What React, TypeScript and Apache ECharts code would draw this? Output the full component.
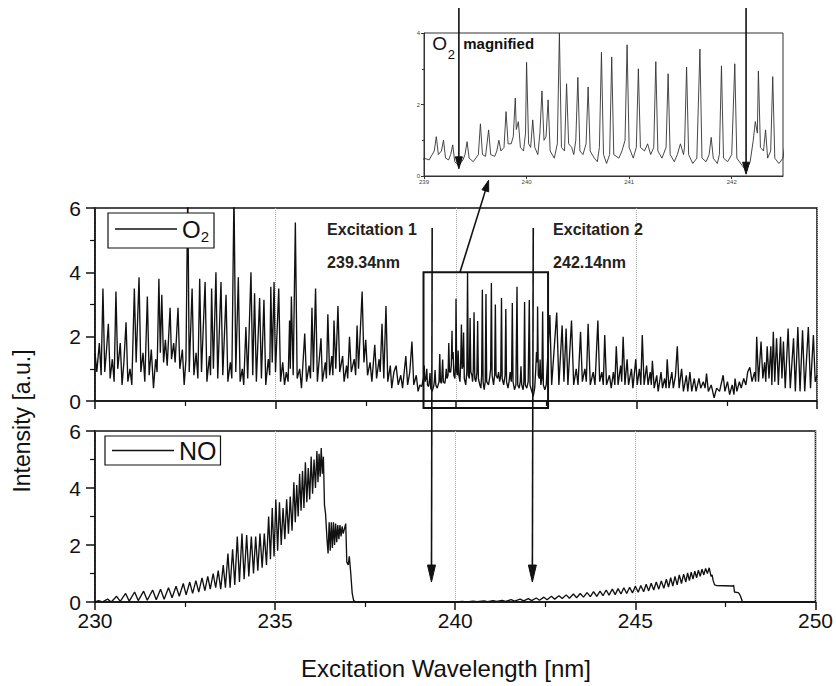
import React, { useEffect, useRef } from "react";
import * as echarts from "echarts";

// ---- data ----
const wavelengthRange = [230, 250];
const intensityRange = [0, 6];
const insetRange = [239, 242.5];
const insetIntensityRange = [0, 4];
const excitationWavelengths = [239.34, 242.14];
const excitationTitles = ["Excitation 1", "Excitation 2"];
const excitationValues = ["239.34nm", "242.14nm"];
// zoom window drawn in the O2 panel: [xMin, xMax, yMin, yMax]
const zoomWindow = [239.1, 242.55, -0.22, 4.0];

const o2Spectrum: [number, number][] = [
  [230.0, 1.5], [230.05, 0.9], [230.12, 1.8], [230.17, 0.8], [230.22, 3.5], [230.27, 0.9], [230.32, 1.6], [230.37, 2.4],
  [230.42, 0.7], [230.48, 1.3], [230.53, 0.6], [230.58, 3.4], [230.63, 1.0], [230.7, 1.8], [230.75, 0.5], [230.8, 1.2],
  [230.86, 2.45], [230.91, 0.6], [230.97, 1.0], [231.02, 0.5], [231.09, 3.5], [231.14, 1.2], [231.22, 3.85], [231.27, 0.9],
  [231.33, 1.5], [231.38, 0.6], [231.45, 3.25], [231.5, 0.8], [231.56, 1.6], [231.62, 0.4], [231.68, 1.3], [231.72, 0.9],
  [231.77, 3.8], [231.81, 1.5], [231.85, 3.3], [231.9, 1.2], [231.95, 1.9], [232.0, 1.1], [232.08, 2.9], [232.12, 1.3],
  [232.18, 1.8], [232.22, 1.2], [232.3, 2.9], [232.35, 1.0], [232.42, 1.6], [232.47, 0.5], [232.52, 1.3], [232.57, 6.6],
  [232.61, 0.9], [232.69, 3.5], [232.74, 0.8], [232.8, 1.5], [232.85, 0.7], [232.9, 3.8], [232.95, 0.9], [233.05, 3.7],
  [233.1, 0.6], [233.17, 1.4], [233.2, 0.8], [233.23, 3.5], [233.28, 1.0], [233.35, 4.0], [233.4, 0.7], [233.49, 3.7],
  [233.54, 0.8], [233.63, 3.3], [233.68, 0.6], [233.75, 1.2], [233.79, 0.7], [233.85, 6.5], [233.9, 0.9], [233.97, 3.85],
  [234.02, 0.6], [234.08, 1.0], [234.12, 0.5], [234.18, 2.3], [234.23, 0.7], [234.32, 4.0], [234.37, 0.8], [234.42, 3.35],
  [234.47, 0.6], [234.56, 3.2], [234.61, 0.7], [234.68, 3.15], [234.73, 0.5], [234.8, 1.3], [234.84, 0.8], [234.87, 3.55],
  [234.91, 1.2], [234.96, 3.7], [235.0, 0.9], [235.09, 3.5], [235.14, 0.6], [235.2, 1.2], [235.25, 0.5], [235.3, 0.9],
  [235.35, 0.6], [235.39, 2.5], [235.41, 1.0], [235.44, 3.25], [235.49, 0.8], [235.55, 5.55], [235.6, 0.7], [235.67, 1.0],
  [235.72, 0.4], [235.81, 2.1], [235.86, 0.6], [235.93, 1.1], [235.97, 0.7], [236.01, 2.9], [236.05, 0.9], [236.11, 3.5],
  [236.16, 0.6], [236.26, 1.95], [236.3, 0.6], [236.38, 1.2], [236.41, 0.7], [236.45, 2.7], [236.5, 0.8], [236.56, 1.4],
  [236.59, 0.8], [236.62, 2.5], [236.67, 1.0], [236.73, 2.95], [236.78, 0.9], [236.86, 1.4], [236.9, 0.6], [236.97, 1.1],
  [237.0, 0.7], [237.05, 2.0], [237.1, 0.9], [237.18, 1.3], [237.22, 0.8], [237.26, 2.35], [237.3, 1.0], [237.4, 3.4],
  [237.45, 1.2], [237.5, 1.9], [237.55, 0.8], [237.62, 1.2], [237.67, 0.6], [237.75, 1.75], [237.8, 0.7], [237.87, 1.3],
  [237.9, 0.9], [237.95, 2.4], [238.0, 0.7], [238.06, 2.95], [238.11, 0.6], [238.18, 1.1], [238.22, 0.4], [238.28, 0.9],
  [238.34, 1.1], [238.4, 0.5], [238.47, 0.8], [238.52, 0.4], [238.61, 1.4], [238.66, 0.5], [238.72, 0.9], [238.78, 1.85],
  [238.83, 0.5], [238.9, 0.8], [238.95, 0.3], [239.0, 0.5], [239.05, 0.45], [239.1, 0.7], [239.12, 1.1], [239.14, 0.6],
  [239.17, 0.7], [239.19, 1.0], [239.21, 0.5], [239.24, 0.45], [239.26, 0.6], [239.28, 0.87], [239.3, 0.4], [239.34, 0.3],
  [239.38, 0.45], [239.4, 0.6], [239.42, 0.96], [239.44, 0.5], [239.48, 0.4], [239.53, 0.6], [239.55, 1.46], [239.57, 0.6],
  [239.6, 0.55], [239.63, 1.29], [239.65, 0.6], [239.69, 0.55], [239.71, 0.7], [239.73, 1.0], [239.75, 0.7], [239.78, 0.8],
  [239.8, 1.8], [239.82, 0.9], [239.85, 0.9], [239.87, 1.1], [239.89, 2.18], [239.9, 1.3], [239.92, 1.52], [239.94, 0.8],
  [239.97, 0.7], [239.99, 1.2], [240.0, 3.18], [240.02, 0.9], [240.04, 0.8], [240.06, 1.57], [240.08, 0.8], [240.11, 0.6],
  [240.13, 1.2], [240.15, 2.38], [240.17, 1.0], [240.19, 1.1], [240.21, 2.13], [240.23, 0.7], [240.27, 0.5], [240.3, 0.9],
  [240.32, 4.0], [240.34, 0.8], [240.37, 0.7], [240.39, 2.58], [240.41, 0.9], [240.44, 0.8], [240.46, 0.6], [240.48, 1.0],
  [240.5, 2.76], [240.52, 0.7], [240.55, 0.6], [240.58, 0.9], [240.6, 2.49], [240.62, 0.7], [240.66, 0.5], [240.69, 0.4],
  [240.71, 0.8], [240.73, 3.46], [240.75, 0.6], [240.78, 0.35], [240.81, 0.6], [240.83, 3.33], [240.85, 0.6], [240.9, 0.5],
  [240.93, 0.7], [240.96, 1.0], [240.98, 3.67], [241.0, 0.8], [241.04, 0.5], [241.07, 0.8], [241.09, 3.0], [241.11, 0.8],
  [241.15, 0.7], [241.18, 0.9], [241.21, 0.6], [241.24, 0.8], [241.26, 3.2], [241.28, 0.7], [241.32, 0.5], [241.36, 0.8],
  [241.38, 2.86], [241.4, 0.6], [241.44, 0.4], [241.47, 0.6], [241.5, 0.9], [241.53, 0.6], [241.54, 0.8], [241.56, 3.05],
  [241.58, 0.6], [241.62, 0.35], [241.66, 0.5], [241.69, 3.55], [241.71, 0.5], [241.75, 0.4], [241.78, 0.6], [241.8, 1.08],
  [241.82, 0.5], [241.86, 0.35], [241.88, 0.6], [241.9, 3.08], [241.92, 0.5], [241.96, 0.4], [242.0, 0.6], [242.03, 3.14],
  [242.05, 0.5], [242.1, 0.3], [242.14, 0.15], [242.18, 0.4], [242.21, 1.0], [242.23, 1.52], [242.25, 1.2], [242.26, 2.94],
  [242.28, 0.8], [242.31, 0.7], [242.33, 1.29], [242.35, 0.5], [242.38, 0.7], [242.4, 2.78], [242.42, 0.5], [242.46, 0.35],
  [242.5, 0.5], [242.6, 2.67], [242.65, 0.5],
  [242.79, 2.75], [242.85, 0.5], [242.94, 2.35], [242.99, 0.6], [243.05, 2.25], [243.1, 0.5], [243.2, 2.5], [243.26, 0.5],
  [243.33, 1.0], [243.38, 0.5], [243.45, 2.15], [243.5, 0.6], [243.57, 1.0], [243.61, 0.6], [243.66, 2.4], [243.72, 0.5],
  [243.8, 0.9], [243.85, 0.5], [243.93, 2.5], [243.98, 0.6], [244.04, 0.9], [244.08, 0.5], [244.12, 2.05], [244.17, 0.5],
  [244.25, 0.8], [244.3, 0.4], [244.36, 0.9], [244.4, 0.5], [244.44, 1.7], [244.49, 0.5], [244.56, 1.1], [244.59, 0.6],
  [244.63, 2.0], [244.68, 0.5], [244.74, 1.3], [244.78, 0.5], [244.86, 1.0], [244.9, 0.4], [244.98, 1.3], [245.02, 0.5],
  [245.08, 1.0], [245.12, 0.5], [245.16, 2.05], [245.21, 0.5], [245.28, 1.1], [245.32, 0.5], [245.38, 0.9], [245.41, 0.5],
  [245.44, 1.25], [245.49, 0.4], [245.56, 0.8], [245.6, 0.3], [245.68, 0.9], [245.72, 0.4], [245.78, 0.7], [245.82, 0.4],
  [245.85, 1.3], [245.9, 0.4], [245.98, 0.9], [246.02, 0.4], [246.08, 0.8], [246.13, 1.7], [246.18, 0.4], [246.25, 1.0],
  [246.3, 0.3], [246.38, 0.8], [246.42, 0.3], [246.48, 0.9], [246.53, 0.3], [246.6, 0.7], [246.65, 0.3], [246.73, 0.7],
  [246.78, 0.4], [246.85, 0.6], [246.9, 0.4], [246.94, 0.85], [246.99, 0.3], [247.07, 0.5], [247.15, 0.1], [247.22, 0.4],
  [247.3, 0.3], [247.4, 0.8], [247.45, 0.3], [247.52, 0.6], [247.58, 0.2], [247.65, 0.5], [247.7, 0.2], [247.73, 0.7],
  [247.78, 0.3], [247.85, 0.6], [247.9, 0.4], [247.97, 0.7], [248.03, 0.5], [248.08, 0.9], [248.14, 1.05], [248.2, 0.6],
  [248.27, 0.9], [248.3, 0.6], [248.33, 2.0], [248.38, 0.6], [248.45, 1.85], [248.5, 0.7], [248.55, 1.2], [248.58, 0.6],
  [248.62, 1.7], [248.67, 0.7], [248.72, 1.7], [248.75, 0.5], [248.79, 2.15], [248.83, 0.6], [248.88, 1.95], [248.93, 0.5],
  [248.99, 2.0], [249.03, 0.7], [249.07, 1.85], [249.12, 0.4], [249.2, 2.25], [249.26, 0.4], [249.35, 1.95], [249.4, 0.3],
  [249.47, 2.3], [249.53, 0.3], [249.6, 2.2], [249.66, 0.3], [249.76, 2.3], [249.82, 0.4], [249.9, 2.05], [249.95, 0.6],
  [250.0, 0.8],
];

const noSpectrum: [number, number][] = [
  [230.0, 0], [230.1, 0.05], [230.2, 0], [230.35, 0.1], [230.45, 0], [230.6, 0.2], [230.7, 0.02], [230.85, 0.3],
  [230.95, 0.03], [231.1, 0.35], [231.2, 0.05], [231.35, 0.38], [231.45, 0.06], [231.6, 0.42], [231.7, 0.08], [231.82, 0.45],
  [231.92, 0.1], [232.04, 0.5], [232.14, 0.15], [232.25, 0.55], [232.34, 0.2], [232.45, 0.65], [232.53, 0.25], [232.63, 0.7],
  [232.71, 0.3], [232.8, 0.75], [232.88, 0.35], [232.97, 0.85], [233.05, 0.4], [233.13, 0.9], [233.2, 0.45], [233.28, 1.0],
  [233.35, 0.5], [233.42, 1.1], [233.49, 0.45], [233.56, 1.3], [233.62, 0.5], [233.69, 1.7], [233.75, 0.5], [233.82, 1.85],
  [233.88, 0.6], [233.95, 2.3], [234.01, 0.7], [234.08, 2.4], [234.14, 0.8], [234.21, 2.35], [234.27, 0.9], [234.34, 2.3],
  [234.4, 1.0], [234.46, 2.3], [234.52, 1.1], [234.58, 2.4], [234.64, 1.2], [234.7, 2.4], [234.76, 1.3], [234.82, 3.0],
  [234.87, 1.5], [234.92, 3.3], [234.97, 1.6], [235.02, 3.6], [235.07, 1.8], [235.12, 3.5], [235.17, 2.0], [235.22, 3.3],
  [235.27, 2.2], [235.32, 3.6], [235.37, 2.4], [235.42, 3.7], [235.47, 2.5], [235.52, 4.2], [235.56, 2.8], [235.6, 4.1],
  [235.64, 3.0], [235.68, 4.5], [235.72, 3.2], [235.76, 4.6], [235.8, 3.3], [235.84, 4.9], [235.88, 3.5], [235.92, 4.7],
  [235.96, 3.6], [236.0, 5.1], [236.04, 3.8], [236.08, 5.0], [236.12, 4.0], [236.16, 5.3], [236.19, 4.2], [236.22, 5.2],
  [236.25, 4.4], [236.28, 5.4], [236.31, 4.5], [236.34, 5.1], [236.37, 3.4], [236.4, 3.1], [236.44, 2.2], [236.47, 1.7],
  [236.5, 2.8], [236.53, 1.8], [236.56, 2.8], [236.59, 1.9], [236.62, 2.8], [236.65, 2.0], [236.68, 2.75], [236.71, 2.1],
  [236.74, 2.7], [236.77, 2.2], [236.8, 2.7], [236.83, 2.3], [236.86, 2.65], [236.89, 2.4], [236.93, 2.6], [236.96, 2.75],
  [236.99, 1.4], [237.03, 1.3], [237.06, 1.6], [237.1, 1.0], [237.14, 0.3], [237.18, 0.05], [237.25, 0], [240.0, 0],
  [240.2, 0.02], [240.3, 0], [240.5, 0.03], [240.6, 0.01], [240.8, 0.04], [240.9, 0.01], [241.05, 0.05], [241.15, 0.02],
  [241.3, 0.06], [241.4, 0.02], [241.55, 0.08], [241.65, 0.03], [241.8, 0.1], [241.9, 0.04], [242.03, 0.12], [242.12, 0.05],
  [242.25, 0.14], [242.34, 0.06], [242.46, 0.17], [242.55, 0.08], [242.67, 0.2], [242.76, 0.1], [242.88, 0.22], [242.97, 0.12],
  [243.08, 0.25], [243.17, 0.13], [243.28, 0.28], [243.37, 0.15], [243.47, 0.3], [243.56, 0.17], [243.66, 0.33], [243.75, 0.19],
  [243.84, 0.36], [243.93, 0.2], [244.02, 0.38], [244.1, 0.22], [244.19, 0.42], [244.27, 0.24], [244.36, 0.45], [244.44, 0.26],
  [244.52, 0.47], [244.6, 0.28], [244.68, 0.5], [244.76, 0.3], [244.84, 0.52], [244.92, 0.32], [245.0, 0.55], [245.08, 0.34],
  [245.15, 0.58], [245.23, 0.36], [245.3, 0.62], [245.37, 0.39], [245.44, 0.66], [245.51, 0.42], [245.58, 0.7], [245.65, 0.45],
  [245.72, 0.74], [245.79, 0.48], [245.86, 0.8], [245.92, 0.52], [245.98, 0.85], [246.04, 0.56], [246.1, 0.9], [246.16, 0.6],
  [246.22, 0.95], [246.28, 0.65], [246.34, 0.98], [246.4, 0.7], [246.45, 1.02], [246.5, 0.75], [246.55, 1.05], [246.6, 0.8],
  [246.65, 1.08], [246.7, 0.85], [246.75, 1.12], [246.8, 0.9], [246.85, 1.15], [246.9, 0.95], [246.95, 1.18], [247.0, 1.0],
  [247.05, 1.2], [247.1, 0.9], [247.13, 0.95], [247.16, 0.75], [247.2, 0.6], [247.25, 0.58], [247.7, 0.56], [247.73, 0.58],
  [247.75, 0.35], [247.85, 0.33], [247.88, 0.3], [247.92, 0.2], [247.97, 0.02], [248.0, 0], [250.0, 0],
];

const FONT = '"Liberation Sans", Arial, sans-serif';
const INK = "#111";

function mainXAxis(gridIndex: number, showLabels: boolean) {
  return {
    type: "value",
    gridIndex,
    min: wavelengthRange[0],
    max: wavelengthRange[1],
    interval: 5,
    axisLine: { show: true, onZero: false, lineStyle: { color: INK, width: 1.5 } },
    axisTick: { show: true, inside: false, length: 8, lineStyle: { color: INK, width: 1.5 } },
    minorTick: { show: true, splitNumber: 2, length: 5, lineStyle: { color: INK, width: 1.2 } },
    splitLine: { show: true, lineStyle: { color: "#aaa", type: "dotted", width: 1 } },
    axisLabel: { show: showLabels, fontSize: 21, color: INK, fontFamily: FONT, margin: 8 },
  };
}

function mainYAxis(gridIndex: number) {
  return {
    type: "value",
    gridIndex,
    min: intensityRange[0],
    max: intensityRange[1],
    interval: 2,
    axisLine: { show: true, onZero: false, lineStyle: { color: INK, width: 1.5 } },
    axisTick: { show: true, inside: false, length: 9, lineStyle: { color: INK, width: 1.5 } },
    minorTick: { show: true, splitNumber: 2, length: 5, lineStyle: { color: INK, width: 1.2 } },
    splitLine: { show: false },
    axisLabel: { show: true, fontSize: 21, color: INK, fontFamily: FONT, margin: 14 },
  };
}

export default function App() {
  const ref = useRef<HTMLDivElement>(null);

  useEffect(() => {
    document.body.style.margin = "0";
    const el = ref.current;
    if (!el) return;
    const chart = echarts.init(el, null, { renderer: "svg" });

    const legendRich = {
      o: { fontSize: 24, color: INK, fontFamily: FONT, lineHeight: 30, verticalAlign: "middle" },
      s: { fontSize: 15, color: INK, fontFamily: FONT, lineHeight: 30, verticalAlign: "bottom" },
    };

    const option: any = {
      animation: false,
      backgroundColor: "#fff",
      legend: [
        {
          data: ["O2"],
          left: 108,
          top: 213,
          icon: "rect",
          itemWidth: 62,
          itemHeight: 1.5,
          padding: [4, 5, 4, 7],
          borderColor: INK,
          borderWidth: 1.2,
          backgroundColor: "#fff",
          selectedMode: false,
          formatter: () => "{o|O}{s|2}",
          textStyle: { rich: legendRich },
        },
        {
          data: ["NO"],
          left: 105,
          top: 436,
          icon: "rect",
          itemWidth: 62,
          itemHeight: 1.5,
          padding: [2, 4, 2, 7],
          borderColor: INK,
          borderWidth: 1.2,
          backgroundColor: "#fff",
          selectedMode: false,
          formatter: () => "{o|NO}",
          textStyle: { rich: { o: { fontSize: 25, color: INK, fontFamily: FONT, lineHeight: 27 } } },
        },
      ],
      grid: [
        { left: 95, top: 208, width: 722, height: 193, show: true, borderColor: INK, borderWidth: 1.5, backgroundColor: "transparent" },
        { left: 95, top: 431, width: 722, height: 171, show: true, borderColor: INK, borderWidth: 1.5, backgroundColor: "transparent" },
        { left: 424, top: 33, width: 359, height: 143, show: true, borderColor: "#333", borderWidth: 1, backgroundColor: "#fff" },
      ],
      xAxis: [
        mainXAxis(0, false),
        mainXAxis(1, true),
        {
          type: "value",
          gridIndex: 2,
          min: insetRange[0],
          max: insetRange[1],
          interval: 1,
          axisLine: { show: true, onZero: false, lineStyle: { color: "#333", width: 1 } },
          axisTick: { show: true, length: 3, lineStyle: { color: "#333" } },
          splitLine: { show: false },
          axisLabel: { show: true, fontSize: 6, color: "#444", fontFamily: FONT, margin: 3, showMaxLabel: false },
        },
      ],
      yAxis: [
        mainYAxis(0),
        mainYAxis(1),
        {
          type: "value",
          gridIndex: 2,
          min: insetIntensityRange[0],
          max: insetIntensityRange[1],
          interval: 2,
          axisLine: { show: true, onZero: false, lineStyle: { color: "#333", width: 1 } },
          axisTick: { show: true, length: 3, lineStyle: { color: "#333" } },
          minorTick: { show: true, splitNumber: 2, length: 2, lineStyle: { color: "#333" } },
          splitLine: { show: false },
          axisLabel: { show: true, fontSize: 6, color: "#444", fontFamily: FONT, margin: 4 },
        },
      ],
      series: [
        {
          name: "O2",
          type: "line",
          xAxisIndex: 0,
          yAxisIndex: 0,
          data: o2Spectrum,
          showSymbol: false,
          clip: true,
          lineStyle: { color: INK, width: 1.35 },
          itemStyle: { color: INK },
        },
        {
          name: "NO",
          type: "line",
          xAxisIndex: 1,
          yAxisIndex: 1,
          data: noSpectrum,
          showSymbol: false,
          clip: true,
          lineStyle: { color: INK, width: 1.35 },
          itemStyle: { color: INK },
        },
        {
          name: "O2 magnified",
          type: "line",
          xAxisIndex: 2,
          yAxisIndex: 2,
          data: o2Spectrum,
          showSymbol: false,
          clip: true,
          lineStyle: { color: "#333", width: 0.9 },
          itemStyle: { color: "#333" },
        },
      ],
    };

    chart.setOption(option);

    const px = (g: number, x: number, y: number) => chart.convertToPixel({ gridIndex: g } as any, [x, y]) as number[];
    const arrowHead = (tip: number[], from: number[], len: number, half: number) => {
      const dx = tip[0] - from[0];
      const dy = tip[1] - from[1];
      const d = Math.hypot(dx, dy) || 1;
      const ux = dx / d, uy = dy / d;
      const bx = tip[0] - ux * len, by = tip[1] - uy * len;
      return {
        type: "polygon",
        z: 100,
        shape: { points: [[tip[0], tip[1]], [bx - uy * half, by + ux * half], [bx + uy * half, by - ux * half]] },
        style: { fill: INK, stroke: INK, lineWidth: 1 },
        silent: true,
      };
    };
    const arrow = (from: number[], tip: number[], width: number, len: number, half: number) => {
      const dx = tip[0] - from[0], dy = tip[1] - from[1];
      const d = Math.hypot(dx, dy) || 1;
      const end = [tip[0] - (dx / d) * (len - 2), tip[1] - (dy / d) * (len - 2)];
      return [
        {
          type: "line",
          z: 100,
          shape: { x1: from[0], y1: from[1], x2: end[0], y2: end[1] },
          style: { stroke: INK, lineWidth: width },
          silent: true,
        },
        arrowHead(tip, from, len, half),
      ];
    };

    const graphics: any[] = [];
    // zoom window rectangle
    const r0 = px(0, zoomWindow[0], zoomWindow[3]);
    const r1 = px(0, zoomWindow[1], zoomWindow[2]);
    graphics.push({
      type: "rect",
      z: 100,
      shape: { x: r0[0], y: r0[1], width: r1[0] - r0[0], height: r1[1] - r0[1] },
      style: { fill: "none", stroke: INK, lineWidth: 2 },
      silent: true,
    });
    // connector from window to inset
    graphics.push(...arrow(px(0, 240.11, 4.0), px(2, 239.63, -0.12), 1.6, 11, 3.5));
    // excitation arrows through both panels
    excitationWavelengths.forEach((w) => {
      graphics.push(...arrow(px(0, w, 5.38), px(1, w, 0.7), 1.6, 17, 4));
    });
    // excitation arrows in the inset
    graphics.push(...arrow(px(2, excitationWavelengths[0], 4.7), px(2, excitationWavelengths[0], 0.2), 1.6, 12, 3.5));
    graphics.push(...arrow(px(2, excitationWavelengths[1], 4.7), px(2, excitationWavelengths[1], 0.05), 1.6, 12, 3.5));
    // inset title "O2 magnified"
    const t0 = px(2, 239.08, 3.7);
    graphics.push({
      type: "text",
      z: 101,
      style: { text: "O", x: t0[0], y: t0[1], fontSize: 19, fontFamily: FONT, fill: INK, verticalAlign: "middle", align: "left" },
      silent: true,
    });
    graphics.push({
      type: "text",
      z: 101,
      style: { text: "2", x: t0[0] + 15.5, y: t0[1] + 11, fontSize: 13, fontFamily: FONT, fill: INK, verticalAlign: "middle", align: "left" },
      silent: true,
    });
    graphics.push({
      type: "text",
      z: 101,
      style: { text: "magnified", x: t0[0] + 31, y: t0[1], fontSize: 15, fontWeight: "bold", fontFamily: FONT, fill: INK, verticalAlign: "middle", align: "left" },
      silent: true,
    });
    // excitation labels
    const labelX = [236.43, 242.69];
    excitationTitles.forEach((t, i) => {
      const a = px(0, labelX[i], 5.32);
      const b = px(0, labelX[i], 4.32);
      graphics.push({
        type: "text",
        z: 101,
        style: { text: t, x: a[0], y: a[1], fontSize: 16, fontWeight: "bold", fontFamily: FONT, fill: "#222", verticalAlign: "middle", align: "left" },
        silent: true,
      });
      graphics.push({
        type: "text",
        z: 101,
        style: { text: excitationValues[i], x: b[0], y: b[1], fontSize: 16, fontWeight: "bold", fontFamily: FONT, fill: "#222", verticalAlign: "middle", align: "left" },
        silent: true,
      });
    });
    // axis titles
    graphics.push({
      type: "text",
      z: 101,
      x: 22,
      y: 421,
      rotation: Math.PI / 2,
      style: { text: "Intensity [a.u.]", x: 0, y: 0, fontSize: 23, fontFamily: FONT, fill: INK, align: "center", verticalAlign: "middle" },
      silent: true,
    });
    graphics.push({
      type: "text",
      z: 101,
      style: { text: "Excitation Wavelength [nm]", x: 446, y: 668, fontSize: 24, fontFamily: FONT, fill: INK, align: "center", verticalAlign: "middle" },
      silent: true,
    });

    chart.setOption({ graphic: graphics });

    return () => chart.dispose();
  }, []);

  return <div ref={ref} style={{ width: 836, height: 686 }} />;
}
